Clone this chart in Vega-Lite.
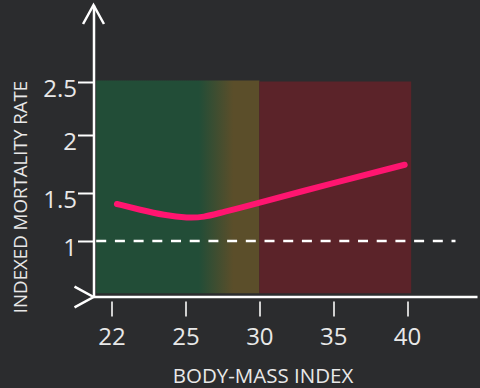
{
  "$schema": "https://vega.github.io/schema/vega-lite/v6.json",
  "width": 384,
  "height": 292,
  "autosize": "none",
  "padding": {"left": 93.5, "top": 5, "right": 2.5, "bottom": 91},
  "background": "#2b2c2e",
  "config": {"view": {"stroke": null}, "font": "Open Sans"},
  "datasets": {
    "curve": [
      {"bmi": 22.22, "rate": 1.388},
      {"bmi": 23.16, "rate": 1.327},
      {"bmi": 24.13, "rate": 1.27},
      {"bmi": 25.17, "rate": 1.24},
      {"bmi": 26.25, "rate": 1.25},
      {"bmi": 27.34, "rate": 1.295},
      {"bmi": 28.69, "rate": 1.346},
      {"bmi": 32.33, "rate": 1.5},
      {"bmi": 39.84, "rate": 1.745}
    ],
    "zones": [
      {"zone": "normal", "bmi": 21.38, "bmi_end": 30, "rate": 0.452, "rate_end": 2.515},
      {"zone": "obese", "bmi": 30, "bmi_end": 40.28, "rate": 0.452, "rate_end": 2.505}
    ],
    "reference": [{"bmi": 21.38, "bmi_end": 43.28, "rate": 1}],
    "axes": [
      {"axis": "x", "bmi": 21.27, "bmi_end": 44.77, "rate": 0.413},
      {"axis": "y", "bmi": 21.27, "rate": 3.226}
    ]
  },
  "encoding": {
    "x": {
      "field": "bmi",
      "type": "quantitative",
      "scale": {"domain": [21.27, 22, 25, 44.77], "range": [0, 18, 92, 384], "nice": false, "zero": false},
      "axis": {
        "values": [22, 25, 30, 35, 40],
        "title": "BODY-MASS INDEX",
        "offset": 4,
        "domain": false,
        "grid": false,
        "tickSize": 15,
        "tickWidth": 2,
        "tickColor": "#d0d0d0",
        "labelFont": "Open Sans",
        "labelFontSize": 24,
        "labelFontWeight": "normal",
        "labelColor": "#e8e8e8",
        "labelPadding": 9.5,
        "labelFlush": false,
        "titleFont": "Open Sans",
        "titleFontSize": 20.5,
        "titleFontWeight": "normal",
        "titleColor": "#e8e8e8",
        "titleX": 169,
        "titleY": 81,
        "titleAlign": "center",
        "titleBaseline": "alphabetic"
      }
    },
    "y": {
      "field": "rate",
      "type": "quantitative",
      "scale": {"domain": [0.413, 1, 1.5, 2, 2.5, 3.226], "range": [292, 236, 188.3, 130, 77, 0], "nice": false, "zero": false},
      "axis": {
        "values": [1, 1.5, 2, 2.5],
        "format": "~g",
        "title": "INDEXED MORTALITY RATE",
        "domain": true,
        "domainColor": "#ffffff",
        "domainWidth": 2.5,
        "grid": false,
        "tickSize": 16,
        "tickWidth": 2,
        "tickColor": "#ffffff",
        "labelFont": "Open Sans",
        "labelFontSize": 24,
        "labelFontWeight": "normal",
        "labelColor": "#e8e8e8",
        "labelPadding": 1,
        "labelOffset": 7,
        "titleFont": "Open Sans",
        "titleFontSize": 18.7,
        "titleFontWeight": "normal",
        "titleColor": "#e8e8e8",
        "titleX": -73,
        "titleY": 191.5,
        "titleAngle": -90,
        "titleAlign": "center",
        "titleBaseline": "middle"
      }
    }
  },
  "layer": [
    {
      "data": {"name": "zones"},
      "transform": [{"filter": "datum.zone === 'normal'"}],
      "mark": {
        "type": "rect",
        "fill": {
          "gradient": "linear",
          "x1": 0, "y1": 0, "x2": 1, "y2": 0,
          "stops": [
            {"offset": 0, "color": "#224d37"},
            {"offset": 0.63, "color": "#224d37"},
            {"offset": 0.84, "color": "#5b4e2a"},
            {"offset": 1, "color": "#5b4e2a"}
          ]
        }
      },
      "encoding": {"x2": {"field": "bmi_end"}, "y2": {"field": "rate_end"}}
    },
    {
      "data": {"name": "zones"},
      "transform": [{"filter": "datum.zone === 'obese'"}],
      "mark": {"type": "rect", "fill": "#5b2329"},
      "encoding": {"x2": {"field": "bmi_end"}, "y2": {"field": "rate_end"}}
    },
    {
      "data": {"name": "reference"},
      "mark": {"type": "rule", "color": "#ffffff", "strokeWidth": 2.5, "strokeDash": [10, 8.7]},
      "encoding": {"x2": {"field": "bmi_end"}}
    },
    {
      "data": {"name": "curve"},
      "mark": {"type": "line", "color": "#ff1570", "strokeWidth": 6, "strokeCap": "round", "strokeJoin": "round", "interpolate": "basis"}
    },
    {
      "data": {"name": "axes"},
      "transform": [{"filter": "datum.axis === 'x'"}],
      "mark": {"type": "rule", "color": "#ffffff", "strokeWidth": 2.5},
      "encoding": {"x2": {"field": "bmi_end"}}
    },
    {
      "data": {"name": "axes"},
      "mark": {"type": "point", "filled": false, "stroke": "#ffffff", "strokeWidth": 2.5, "opacity": 1, "size": 1444},
      "encoding": {
        "shape": {
          "field": "axis",
          "type": "nominal",
          "scale": {"domain": ["x", "y"], "range": ["M -1 -0.55 L 0 0 L -1 0.55", "M -0.55 1 L 0 0 L 0.55 1"]},
          "legend": null
        }
      }
    }
  ]
}
